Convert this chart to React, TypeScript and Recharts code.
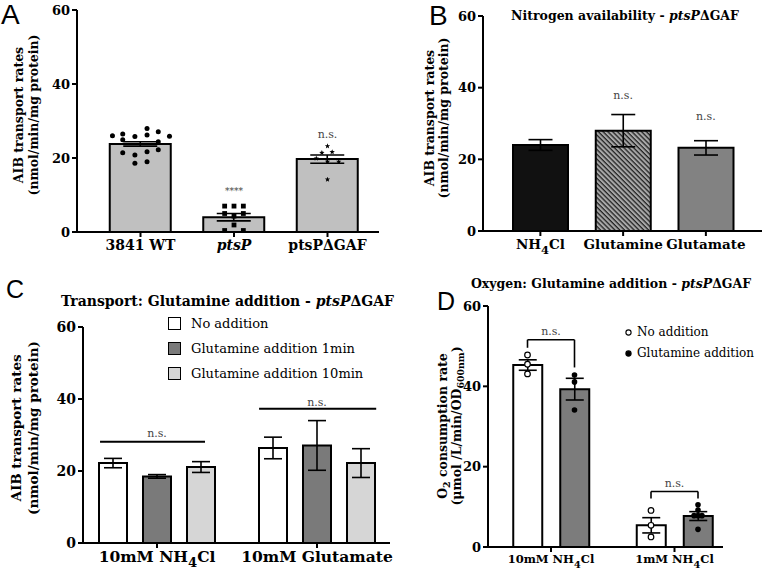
import React from 'react';
import {
  ComposedChart,
  Bar,
  Cell,
  ErrorBar,
  Scatter,
  XAxis,
  YAxis,
  ReferenceLine,
  Legend,
} from 'recharts';

const SERIF = '"DejaVu Serif", serif';
const SANS = '"Liberation Sans", Arial, sans-serif';

// ---------- A: strains ----------
const strainsA = ['3841 WT', 'ptsP', 'ptsPΔGAF'];
const meanA = [23.8, 4.0, 19.7];
const semA = [0.6, 1.0, 1.1];
const wtJitter = [-0.3, -0.19, -0.06, 0.07, 0.07, 0.19, 0.31, -0.19, 0.19, -0.19, -0.06, 0.07, 0.19, -0.06, 0.07];
const wtValues = [26.0, 26.5, 25.8, 28.0, 26.2, 27.1, 25.9, 24.9, 24.4, 21.4, 20.8, 21.7, 22.2, 18.6, 19.0];
const ptsPJitter = [-0.1, 0, 0.1, -0.1, 0, 0.1, 0, -0.1, 0.1];
const ptsPValues = [7.0, 7.0, 7.0, 5.0, 4.3, 5.0, 1.9, 0.4, 0.4];
const gafJitter = [0, -0.06, 0.05, -0.12, 0, 0.12, 0];
const gafValues = [23.2, 21.4, 21.6, 19.9, 19.0, 19.0, 14.2];
const sigTextA = ['****', 'n.s.'];
const sigAtA = [1, 2];
const sigYA = [11.1, 26.3];

// ---------- B: nitrogen source ----------
const sourcesB = ['NH4Cl', 'Glutamine', 'Glutamate'];
const meanB = [24.0, 28.0, 23.2];
const semB = [1.5, 4.5, 2.0];
const sigAtB = [1, 2];
const sigYB = [37.9, 32.0];
const fillB = ['#111111', 'url(#hatchB)', '#828282'];

// ---------- C: transport, glutamine addition ----------
const groupsC = ['10mM NH4Cl', '10mM Glutamate'];
const seriesC = ['No addition', 'Glutamine addition 1min', 'Glutamine addition 10min'];
const noAddC = [22.2, 26.4];
const noAddSemC = [1.3, 3.0];
const add1C = [18.5, 27.1];
const add1SemC = [0.5, 6.9];
const add10C = [21.1, 22.2];
const add10SemC = [1.5, 4.0];
const nsLineYC = [28.1, 37.3];
const nsLineFromC = [-0.356, -0.362];
const nsLineToC = [0.3, 0.37];
const nsTextYC = [30.4, 39.0];

// ---------- D: oxygen consumption ----------
const groupsD = ['10mM NH4Cl', '1mM NH4Cl'];
const seriesD = ['No addition', 'Glutamine addition'];
const noAddD = [45.3, 5.4];
const noAddSemD = [1.3, 1.9];
const glnD = [39.3, 7.7];
const glnSemD = [2.7, 1.1];
const noAddDotsD = [
  [47.8, 45.5, 43.1],
  [9.1, 5.4, 2.5],
];
const glnDotsD = [
  [42.8, 41.1, 34.1],
  [10.5, 9.2, 7.8, 7.8, 7.8, 4.4],
];
const glnJitterD = [
  [0, 0, 0],
  [0, 0, -0.032, 0, 0.032, 0],
];
const bracketTopD = [51.6, 13.8];
const bracketLeftD = [49.6, 12.1];
const bracketRightD = [44.7, 12.1];
const nsTextYD = [53.7, 15.9];

// ---------- shared bits ----------
const axisStroke = { stroke: '#000', strokeWidth: 2 };
const yTickStyle = (size: number) => ({ fill: '#000', fontSize: size, fontWeight: 700, fontFamily: SERIF });

function labelParts(label: string) {
  if (label === 'ptsP') return <tspan fontStyle="italic">ptsP</tspan>;
  const m = label.match(/^(.*NH)4(Cl)$/);
  if (m)
    return [
      <tspan key="a">{m[1]}</tspan>,
      <tspan key="b" dy={5} fontSize="0.85em">4</tspan>,
      <tspan key="c" dy={-5}>{m[2]}</tspan>,
    ];
  return label;
}

const catTick = (size: number) => (p: any) => (
  <text x={p.x} y={p.y} dy="0.71em" textAnchor="middle" fontSize={size} fontWeight={700} fontFamily={SERIF} fill="#000">
    {labelParts(String(p.payload.value))}
  </text>
);

const dotShape = (p: any) => <circle cx={p.cx} cy={p.cy} r={2.5} fill="#000" />;
const squareShape = (p: any) => <rect x={p.cx - 2.4} y={p.cy - 2.4} width={4.8} height={4.8} fill="#000" />;
const starShape = (p: any) => {
  let d = '';
  for (let k = 0; k < 10; k++) {
    const a = ((-90 + k * 36) * Math.PI) / 180;
    const r = k % 2 ? 1.2 : 2.8;
    d += (k ? 'L' : 'M') + (p.cx + r * Math.cos(a)).toFixed(2) + ',' + (p.cy + r * Math.sin(a)).toFixed(2);
  }
  return <path d={d + 'Z'} fill="#000" />;
};
const ringShape = (p: any) => <circle cx={p.cx} cy={p.cy} r={2.8} fill="#fff" stroke="#000" strokeWidth={1.2} />;
const fullShape = (p: any) => <circle cx={p.cx} cy={p.cy} r={2.8} fill="#000" />;
const textShape = (p: any) => (
  <text
    x={p.cx}
    y={p.cy}
    textAnchor="middle"
    dominantBaseline="central"
    fontFamily={SERIF}
    fontSize={p.payload.text === '****' ? 9 : 11}
    fill="#444"
  >
    {p.payload.text}
  </text>
);

// legend entries are picked from the payload by series name, in the reference order
const pick = (payload: any[], names: string[]) =>
  names.map((n) => (payload || []).find((p: any) => p.value === n)).filter(Boolean);

const BoxLegend = ({ payload }: any) => (
  <div style={{ fontFamily: SERIF, fontSize: 13, color: '#000', lineHeight: 1 }}>
    {pick(payload, seriesC).map((p: any) => (
      <div key={p.value} style={{ display: 'flex', alignItems: 'center', height: 25 }}>
        <span style={{ width: 11, height: 11, border: '1.6px solid #000', background: p.color, display: 'inline-block' }} />
        <span style={{ marginLeft: 10, whiteSpace: 'nowrap', fontFamily: SERIF }}>{p.value}</span>
      </div>
    ))}
  </div>
);

const DotLegend = ({ payload }: any) => (
  <div style={{ fontFamily: SERIF, fontSize: 12, color: '#000', lineHeight: 1 }}>
    {pick(payload, seriesD).map((p: any) => (
      <div key={p.value} style={{ display: 'flex', alignItems: 'center', height: 21 }}>
        <svg width={7} height={7}>
          <circle cx={3.5} cy={3.5} r={2.6} fill={p.color} stroke="#000" strokeWidth={1.1} />
        </svg>
        <span style={{ marginLeft: 5, whiteSpace: 'nowrap', fontFamily: SERIF }}>{p.value}</span>
      </div>
    ))}
  </div>
);

function yAxisEl(size = 13) {
  return (
    <YAxis
      domain={[0, 60]}
      ticks={[0, 20, 40, 60]}
      allowDataOverflow
      width={40}
      tick={yTickStyle(size)}
      tickSize={5}
      tickMargin={2}
      axisLine={axisStroke}
      tickLine={axisStroke}
    />
  );
}

// ---------- panels ----------
function PanelA() {
  const data = strainsA.map((name, i) => ({ name, mean: meanA[i], sem: semA[i] }));
  const wt = wtValues.map((y, k) => ({ x: 0 + wtJitter[k], y }));
  const pp = ptsPValues.map((y, k) => ({ x: 1 + ptsPJitter[k], y }));
  const gaf = gafValues.map((y, k) => ({ x: 2 + gafJitter[k], y }));
  const sig = sigTextA.map((text, k) => ({ x: sigAtA[k], y: sigYA[k], text }));
  const pad = { left: 16.75, right: 4.75 };
  return (
    <ComposedChart width={381} height={270} data={data} margin={{ top: 10, right: 2, bottom: 8, left: 37 }}>
      <XAxis xAxisId="cat" dataKey="name" type="category" height={30} padding={pad} interval={0}
        tick={catTick(14)} tickSize={5} tickMargin={3} axisLine={axisStroke} tickLine={axisStroke} />
      <XAxis xAxisId="num" dataKey="x" type="number" domain={[-0.5, 2.5]} allowDataOverflow hide padding={pad} />
      {yAxisEl()}
      <Bar xAxisId="cat" dataKey="mean" fill="#c0c0c0" stroke="#000" strokeWidth={2} barSize={61} isAnimationActive={false}>
        <ErrorBar dataKey="sem" width={17} stroke="#000" strokeWidth={1.6} />
      </Bar>
      <Scatter xAxisId="num" data={wt} dataKey="y" shape={dotShape} legendType="none" isAnimationActive={false} />
      <Scatter xAxisId="num" data={pp} dataKey="y" shape={squareShape} legendType="none" isAnimationActive={false} />
      <Scatter xAxisId="num" data={gaf} dataKey="y" shape={starShape} legendType="none" isAnimationActive={false} />
      <Scatter xAxisId="num" data={sig} dataKey="y" shape={textShape} legendType="none" isAnimationActive={false} />
    </ComposedChart>
  );
}

function PanelB() {
  const data = sourcesB.map((name, i) => ({ name, mean: meanB[i], sem: semB[i] }));
  const sig = sigAtB.map((x, k) => ({ x, y: sigYB[k], text: 'n.s.' }));
  const pad = { left: 16, right: 14.75 };
  return (
    <ComposedChart width={381} height={270} data={data} margin={{ top: 16, right: 0, bottom: 9, left: 62 }}>
      <defs>
        <pattern id="hatchB" patternUnits="userSpaceOnUse" width={4} height={3.4} patternTransform="rotate(45)">
          <rect width={4} height={3.4} fill="#a8a8a8" />
          <rect width={4} height={1.3} fill="#222" />
        </pattern>
      </defs>
      <XAxis xAxisId="cat" dataKey="name" type="category" height={30} padding={pad} interval={0}
        tick={catTick(13.5)} tickSize={5} tickMargin={3} axisLine={axisStroke} tickLine={axisStroke} />
      <XAxis xAxisId="num" dataKey="x" type="number" domain={[-0.5, 2.5]} allowDataOverflow hide padding={pad} />
      {yAxisEl()}
      <Bar xAxisId="cat" dataKey="mean" stroke="#000" strokeWidth={2} barSize={55} isAnimationActive={false}>
        {data.map((d, i) => (
          <Cell key={d.name} fill={fillB[i]} />
        ))}
        <ErrorBar dataKey="sem" width={12} stroke="#000" strokeWidth={1.6} />
      </Bar>
      <Scatter xAxisId="num" data={sig} dataKey="y" shape={textShape} legendType="none" isAnimationActive={false} />
    </ComposedChart>
  );
}

function PanelC() {
  const data = groupsC.map((name, i) => ({
    name,
    none: noAddC[i], noneSem: noAddSemC[i],
    m1: add1C[i], m1Sem: add1SemC[i],
    m10: add10C[i], m10Sem: add10SemC[i],
  }));
  const sig = nsTextYC.map((y, g) => ({ x: g, y, text: 'n.s.' }));
  const pad = { left: -6, right: -7 };
  return (
    <ComposedChart width={400} height={305} data={data} barSize={28} barGap={16}
      margin={{ top: 57, right: 10, bottom: 7, left: 43 }}>
      <XAxis xAxisId="cat" dataKey="name" type="category" height={25} padding={pad} interval={0}
        tick={catTick(15.5)} tickSize={5} tickMargin={3} axisLine={axisStroke} tickLine={axisStroke} />
      <XAxis xAxisId="num" dataKey="x" type="number" domain={[-0.5, 1.5]} allowDataOverflow hide padding={pad} />
      {yAxisEl(14)}
      <Bar xAxisId="cat" dataKey="none" name={seriesC[0]} fill="#ffffff" stroke="#000" strokeWidth={2} isAnimationActive={false}>
        <ErrorBar dataKey="noneSem" width={9} stroke="#000" strokeWidth={1.6} />
      </Bar>
      <Bar xAxisId="cat" dataKey="m1" name={seriesC[1]} fill="#7a7a7a" stroke="#000" strokeWidth={2} isAnimationActive={false}>
        <ErrorBar dataKey="m1Sem" width={9} stroke="#000" strokeWidth={1.6} />
      </Bar>
      <Bar xAxisId="cat" dataKey="m10" name={seriesC[2]} fill="#d6d6d6" stroke="#000" strokeWidth={2} isAnimationActive={false}>
        <ErrorBar dataKey="m10Sem" width={9} stroke="#000" strokeWidth={1.6} />
      </Bar>
      {nsLineYC.map((y, g) => (
        <ReferenceLine key={g} xAxisId="num" stroke="#000" strokeWidth={2}
          segment={[{ x: g + nsLineFromC[g], y }, { x: g + nsLineToC[g], y }]} />
      ))}
      <Scatter xAxisId="num" data={sig} dataKey="y" shape={textShape} legendType="none" isAnimationActive={false} />
      <Legend layout="vertical" align="center" verticalAlign="middle" content={BoxLegend}
        wrapperStyle={{ position: 'absolute', left: 168, top: 40.5, width: 220, height: 75 }} />
    </ComposedChart>
  );
}

function PanelD() {
  const off = (29 + 18) / 2 / 123.5;
  const data = groupsD.map((name, i) => ({ name, none: noAddD[i], noneSem: noAddSemD[i], gln: glnD[i], glnSem: glnSemD[i] }));
  const ring = noAddDotsD.flatMap((vals, g) => vals.map((y) => ({ x: g - off, y })));
  const full = glnDotsD.flatMap((vals, g) => vals.map((y, k) => ({ x: g + off + glnJitterD[g][k], y })));
  const sig = nsTextYD.map((y, g) => ({ x: g, y, text: 'n.s.' }));
  const pad = { left: 1.25, right: -13.25 };
  return (
    <ComposedChart width={362} height={305} data={data} barSize={29} barGap={18}
      margin={{ top: 36, right: 39, bottom: 6, left: 48 }}>
      <XAxis xAxisId="cat" dataKey="name" type="category" height={22} padding={pad} interval={0}
        tick={catTick(11.5)} tickSize={5} tickMargin={3} axisLine={axisStroke} tickLine={axisStroke} />
      <XAxis xAxisId="num" dataKey="x" type="number" domain={[-0.5, 1.5]} allowDataOverflow hide padding={pad} />
      {yAxisEl()}
      <Bar xAxisId="cat" dataKey="none" fill="#ffffff" stroke="#000" strokeWidth={2} legendType="none" isAnimationActive={false}>
        <ErrorBar dataKey="noneSem" width={9} stroke="#000" strokeWidth={1.6} />
      </Bar>
      <Bar xAxisId="cat" dataKey="gln" fill="#7c7c7c" stroke="#000" strokeWidth={2} legendType="none" isAnimationActive={false}>
        <ErrorBar dataKey="glnSem" width={9} stroke="#000" strokeWidth={1.6} />
      </Bar>
      {bracketTopD.map((top, g) => (
        <ReferenceLine key={'l' + g} xAxisId="num" stroke="#000" strokeWidth={1.6}
          segment={[{ x: g - off, y: bracketLeftD[g] }, { x: g - off, y: top }]} />
      ))}
      {bracketTopD.map((top, g) => (
        <ReferenceLine key={'t' + g} xAxisId="num" stroke="#000" strokeWidth={1.6}
          segment={[{ x: g - off, y: top }, { x: g + off, y: top }]} />
      ))}
      {bracketTopD.map((top, g) => (
        <ReferenceLine key={'r' + g} xAxisId="num" stroke="#000" strokeWidth={1.6}
          segment={[{ x: g + off, y: top }, { x: g + off, y: bracketRightD[g] }]} />
      ))}
      <Scatter xAxisId="num" name={seriesD[0]} data={ring} dataKey="y" fill="#ffffff" shape={ringShape} isAnimationActive={false} />
      <Scatter xAxisId="num" name={seriesD[1]} data={full} dataKey="y" fill="#000000" shape={fullShape} isAnimationActive={false} />
      <Scatter xAxisId="num" data={sig} dataKey="y" shape={textShape} legendType="none" isAnimationActive={false} />
      <Legend layout="vertical" align="center" verticalAlign="middle" content={DotLegend}
        wrapperStyle={{ position: 'absolute', left: 225, top: 51.5, width: 140, height: 42 }} />
    </ComposedChart>
  );
}

function YLabel({ x1, x2, cy, size, first, second }: any) {
  return (
    <g fontFamily={SERIF} fontWeight={700} fontSize={size} fill="#000">
      <text transform={`translate(${x1},${cy}) rotate(-90)`} textAnchor="middle" dominantBaseline="central">{first}</text>
      <text transform={`translate(${x2},${cy}) rotate(-90)`} textAnchor="middle" dominantBaseline="central">{second}</text>
    </g>
  );
}

export default function App() {
  return (
    <div style={{ position: 'absolute', left: 0, top: 0, width: 762, height: 575, background: '#fff', overflow: 'hidden' }}>
      <div style={{ position: 'absolute', left: 0, top: 0 }}><PanelA /></div>
      <div style={{ position: 'absolute', left: 381, top: 0 }}><PanelB /></div>
      <div style={{ position: 'absolute', left: 0, top: 270 }}><PanelC /></div>
      <div style={{ position: 'absolute', left: 400, top: 270 }}><PanelD /></div>
      <svg width={762} height={575} style={{ position: 'absolute', left: 0, top: 0, pointerEvents: 'none' }}>
        <g fontFamily={SANS} fill="#000">
          <text x={1} y={24} fontSize={28}>A</text>
          <text x={429} y={25} fontSize={28}>B</text>
          <text x={6} y={298} fontSize={25}>C</text>
          <text x={437} y={310} fontSize={25}>D</text>
        </g>
        <g fontFamily={SERIF} fontWeight={700} fill="#000" textAnchor="middle">
          <text x={625} y={19.5} fontSize={12.5}>
            Nitrogen availability - <tspan fontStyle="italic">ptsP</tspan>ΔGAF
          </text>
          <text x={227.5} y={305.5} fontSize={14}>
            Transport: Glutamine addition - <tspan fontStyle="italic">ptsP</tspan>ΔGAF
          </text>
          <text x={611} y={287.5} fontSize={12.5}>
            Oxygen: Glutamine addition - <tspan fontStyle="italic">ptsP</tspan>ΔGAF
          </text>
        </g>
        <YLabel x1={18} x2={33} cy={115} size={12.5} first="AIB transport rates" second="(nmol/min/mg protein)" />
        <YLabel x1={429} x2={443} cy={118} size={12.5} first="AIB transport rates" second="(nmol/min/mg protein)" />
        <YLabel x1={16} x2={33} cy={428} size={13.5} first="AIB transport rates" second="(nmol/min/mg protein)" />
        <YLabel
          x1={442}
          x2={456}
          cy={426}
          size={12.5}
          first={[
            'O',
            <tspan key="s" dy={4} fontSize="0.75em">2</tspan>,
            <tspan key="r" dy={-4}> consumption rate</tspan>,
          ]}
          second={[
            '(μmol /L/min/OD',
            <tspan key="s" dy={4} fontSize="0.75em">600nm</tspan>,
            <tspan key="r" dy={-4}>)</tspan>,
          ]}
        />
      </svg>
    </div>
  );
}
